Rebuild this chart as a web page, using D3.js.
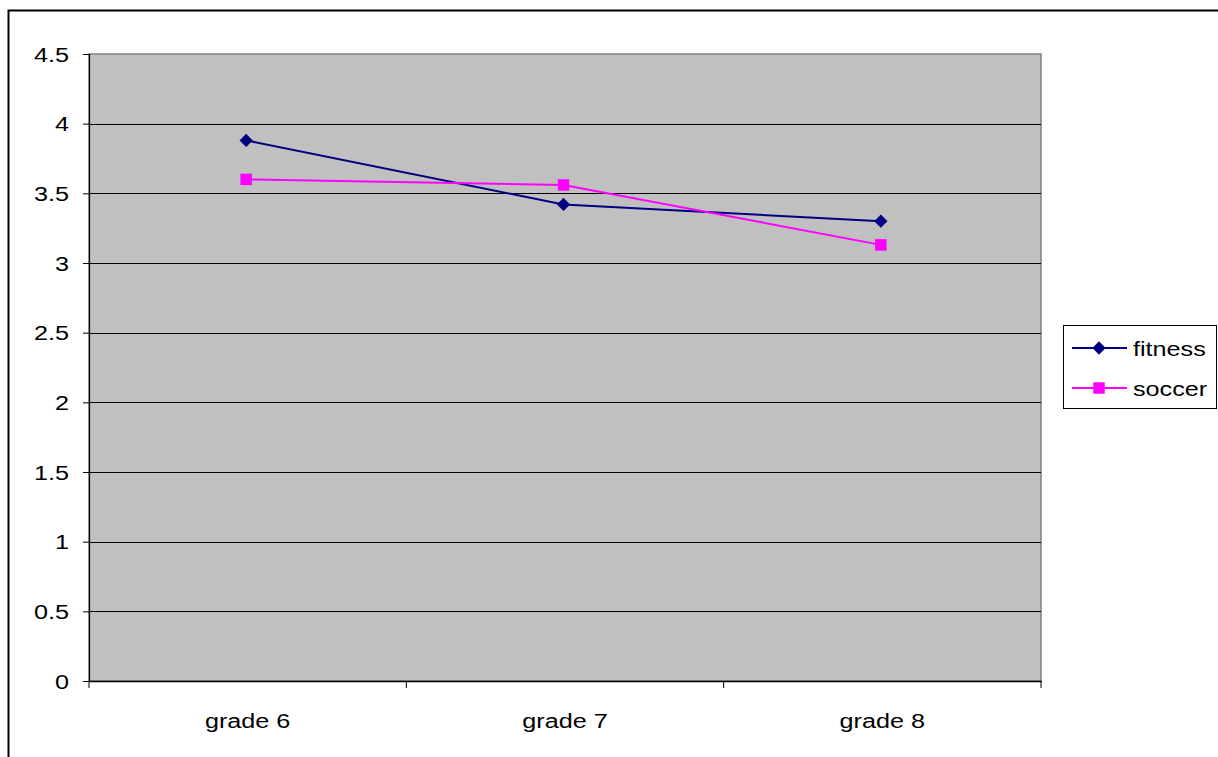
<!DOCTYPE html>
<html><head><meta charset="utf-8">
<script src="https://cdn.jsdelivr.net/npm/d3@7"></script>
<style>body{margin:0;background:#fff;}svg{display:block;}text{font-family:"Liberation Sans",Arial,sans-serif;}</style>
</head><body>
<svg id="c" width="1218" height="757"></svg>
<script>
const categories = ["grade 6", "grade 7", "grade 8"];
const fitness = [3.88, 3.42, 3.30];
const soccer = [3.60, 3.56, 3.13];
const yTicks = [0, 0.5, 1, 1.5, 2, 2.5, 3, 3.5, 4, 4.5];
const seriesNames = ["fitness", "soccer"];

const svg = d3.select("#c");
const FS = 21, SX = 1.2;
const plot = {x0: 89, x1: 1041, y0: 54, y1: 681};

svg.append("rect").attr("x", 8.5).attr("y", 10.5).attr("width", 1220).attr("height", 760)
  .attr("fill", "#fff").attr("stroke", "#000").attr("stroke-width", 2);

const x = d3.scaleBand().domain(categories).range([plot.x0, plot.x1]);
const y = d3.scaleLinear().domain([0, 4.5]).range([plot.y1, plot.y0]);

svg.append("rect").attr("x", plot.x0).attr("y", plot.y0).attr("width", plot.x1 - plot.x0).attr("height", plot.y1 - plot.y0)
  .attr("fill", "#C0C0C0").attr("stroke", "#808080").attr("stroke-width", 1.5);

svg.append("g").selectAll("line").data(yTicks.filter(d => d > 0 && d < 4.5)).join("line")
  .attr("x1", plot.x0).attr("x2", plot.x1).attr("y1", d => Math.round(y(d)) + 0.5).attr("y2", d => Math.round(y(d)) + 0.5)
  .attr("stroke", "#000").attr("stroke-width", 1);

const yAxis = svg.append("g").attr("transform", `translate(${plot.x0},0)`)
  .call(d3.axisLeft(y).tickValues(yTicks).tickSize(6).tickFormat(d => String(d)));
yAxis.select(".domain").attr("stroke", "#000").attr("stroke-width", 1.2);
yAxis.selectAll(".tick line").attr("stroke", "#000");
yAxis.selectAll(".tick text").remove();
svg.append("g").selectAll("text").data(yTicks).join("text")
  .attr("transform", d => `translate(69,${y(d) + 7.5}) scale(${SX},1)`)
  .attr("text-anchor", "end").attr("font-size", FS).attr("fill", "#000").text(d => String(d));

const xAxis = svg.append("g").attr("transform", `translate(0,${plot.y1})`)
  .call(d3.axisBottom(x).tickSize(0).tickFormat(""));
xAxis.select(".domain").attr("stroke", "#000").attr("stroke-width", 1.5);
const bounds = categories.map(c => x(c)).concat([plot.x1]);
svg.append("g").selectAll("line").data(bounds).join("line")
  .attr("x1", d => d).attr("x2", d => d).attr("y1", plot.y1).attr("y2", plot.y1 + 7)
  .attr("stroke", "#000").attr("stroke-width", 1);
svg.append("g").selectAll("text").data(categories).join("text")
  .attr("transform", d => `translate(${x(d) + x.bandwidth() / 2},728) scale(${SX},1)`)
  .attr("text-anchor", "middle").attr("font-size", FS).attr("fill", "#000").text(d => d);

const cx = d => x(d) + x.bandwidth() / 2 - 1.5;
const line = d3.line().x((d, i) => cx(categories[i])).y(d => y(d));

const series = [
  {name: seriesNames[0], values: fitness, color: "#000080", shape: d3.symbolSquare, size: 88, rot: 45},
  {name: seriesNames[1], values: soccer, color: "#FF00FF", shape: d3.symbolSquare, size: 132, rot: 0}
];
series.forEach(s => {
  svg.append("path").datum(s.values).attr("d", line).attr("fill", "none")
    .attr("stroke", s.color).attr("stroke-width", 2);
  svg.append("g").selectAll("path").data(s.values).join("path")
    .attr("d", d3.symbol().type(s.shape).size(s.size))
    .attr("transform", (d, i) => `translate(${cx(categories[i])},${y(d)}) rotate(${s.rot})`)
    .attr("fill", s.color);
});

const lg = svg.append("g");
lg.append("rect").attr("x", 1063.5).attr("y", 325.5).attr("width", 153).attr("height", 83)
  .attr("fill", "#fff").attr("stroke", "#000").attr("stroke-width", 1);
series.forEach((s, i) => {
  const ly = 348 + i * 40;
  lg.append("line").attr("x1", 1072).attr("x2", 1127).attr("y1", ly).attr("y2", ly)
    .attr("stroke", s.color).attr("stroke-width", 2);
  lg.append("path").attr("d", d3.symbol().type(s.shape).size(s.size))
    .attr("transform", `translate(1099,${ly}) rotate(${s.rot})`).attr("fill", s.color);
  lg.append("text").attr("transform", `translate(1133,${ly + 7.5}) scale(${SX},1)`)
    .attr("font-size", FS).attr("fill", "#000").text(s.name);
});
</script>
</body></html>
